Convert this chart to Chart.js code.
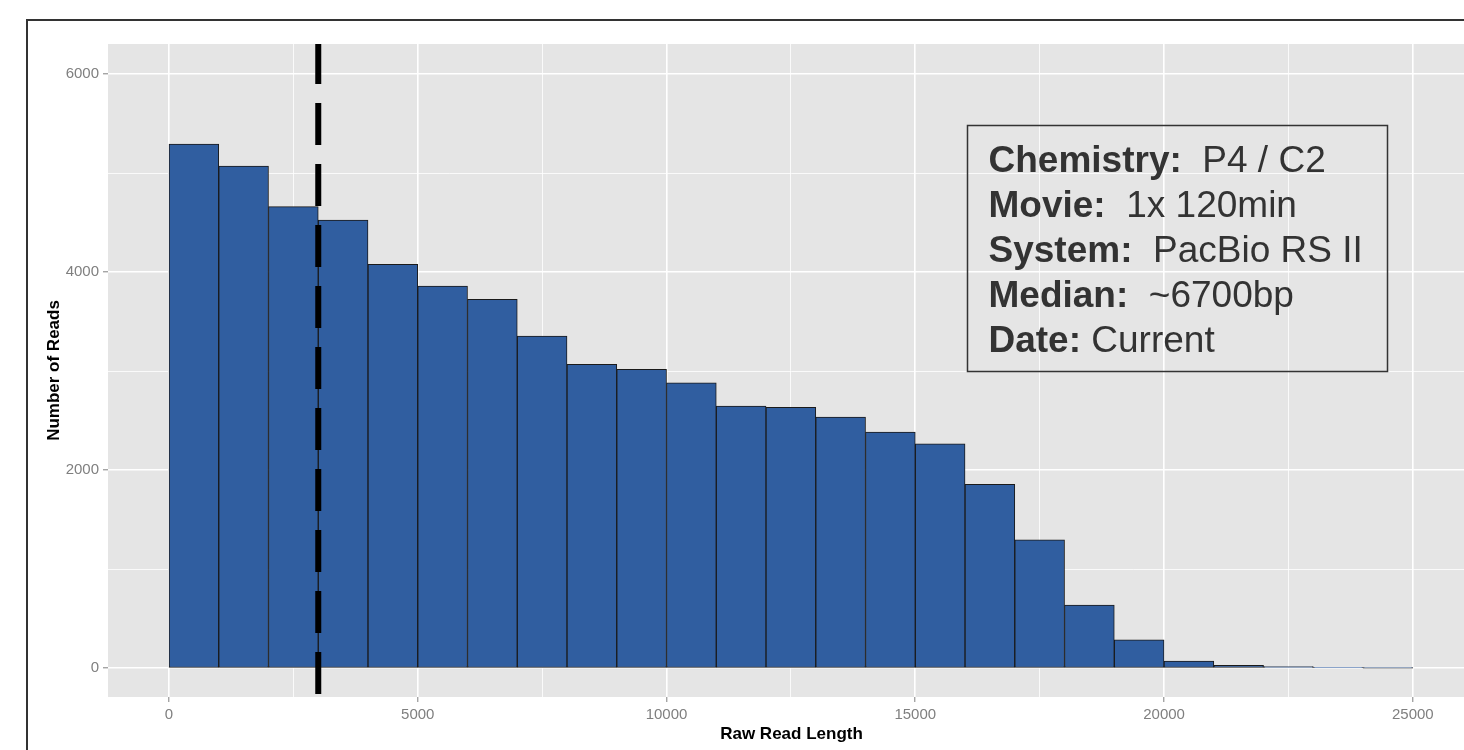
<!DOCTYPE html>
<html>
<head>
<meta charset="utf-8">
<title>Raw Read Length</title>
<script src="https://cdn.jsdelivr.net/npm/chart.js@4.4.1/dist/chart.umd.min.js"></script>
<style>
  html, body { margin: 0; padding: 0; background: #fff; overflow: hidden; }
  #wrap { position: relative; width: 1464px; height: 750px; overflow: hidden; }
  #frame { position: absolute; left: 26px; top: 19px; width: 1500px; height: 800px;
           border: 2px solid #333; box-sizing: border-box; }
  #chart { position: absolute; left: 0; top: 0; }
</style>
</head>
<body>
<div id="wrap">
  <div id="frame"></div>
  <canvas id="chart" width="1500" height="750"></canvas>
</div>
<script>
// histogram bins (start of each 1000 bp bin) and read counts
const binStarts = [0, 1000, 2000, 3000, 4000, 5000, 6000, 7000, 8000, 9000, 10000, 11000, 12000,
                   13000, 14000, 15000, 16000, 17000, 18000, 19000, 20000, 21000, 22000, 23000, 24000];
const binWidth = 1000;
const readCounts = [5293, 5071, 4661, 4526, 4079, 3860, 3725, 3355, 3069, 3018, 2883, 2647, 2634,
                    2537, 2386, 2265, 1858, 1298, 639, 286, 73, 30, 16, 6, 2];

// axis ticks
const xMajorTicks = [0, 5000, 10000, 15000, 20000, 25000];
const xMinorTicks = [2500, 7500, 12500, 17500, 22500];
const yMajorTicks = [0, 2000, 4000, 6000];
const yMinorTicks = [1000, 3000, 5000];

// dashed cutoff line
const cutoffLength = 3000;

// info box text
const infoLabels = ['Chemistry:', 'Movie:', 'System:', 'Median:', 'Date:'];
const infoValues = ['  P4 / C2', '  1x 120min', '  PacBio RS II', '  ~6700bp', ' Current'];
const infoAnchor = { x: 16040, y: 5485 }; // top-left corner of the box, in data units

const FONT = "'Liberation Sans', Arial, sans-serif";
const TICK_GREY = '#7f7f7f';

const ticksFrom = (major, minor) => scale => {
  scale.ticks = major.concat(minor).sort((a, b) => a - b).map(v => ({ value: v }));
};
const isMajor = list => ctx => ctx.tick && list.includes(ctx.tick.value);

// grey ggplot panel
const panelBackground = {
  id: 'panelBackground',
  beforeDraw(chart) {
    const { ctx, chartArea: a } = chart;
    ctx.save();
    ctx.fillStyle = '#e5e5e5';
    ctx.fillRect(a.left, a.top, a.right - a.left, a.bottom - a.top);
    ctx.restore();
  }
};

const cutoffLine = {
  id: 'cutoffLine',
  afterDatasetsDraw(chart) {
    const { ctx, chartArea: a, scales: { x } } = chart;
    const px = x.getPixelForValue(cutoffLength);
    ctx.save();
    ctx.beginPath();
    ctx.rect(a.left, a.top, a.right - a.left, a.bottom - a.top);
    ctx.clip();
    ctx.setLineDash([42, 19]);
    ctx.lineDashOffset = 2;
    ctx.lineWidth = 6;
    ctx.strokeStyle = '#000';
    ctx.beginPath();
    ctx.moveTo(px, a.top);
    ctx.lineTo(px, a.bottom);
    ctx.stroke();
    ctx.restore();
  }
};

const infoBox = {
  id: 'infoBox',
  afterDraw(chart) {
    const { ctx, scales: { x, y } } = chart;
    const left = Math.round(x.getPixelForValue(infoAnchor.x)) + 0.5;
    const top = Math.round(y.getPixelForValue(infoAnchor.y)) + 0.5;
    ctx.save();
    ctx.strokeStyle = '#333';
    ctx.lineWidth = 1.5;
    ctx.strokeRect(left, top, 420, 246);
    ctx.fillStyle = '#333';
    ctx.textBaseline = 'alphabetic';
    infoLabels.forEach((label, i) => {
      const base = top + 46 + i * 45;
      ctx.font = 'bold 37px ' + FONT;
      ctx.fillText(label, left + 21, base);
      const w = ctx.measureText(label).width;
      ctx.font = '37px ' + FONT;
      ctx.fillText(infoValues[i], left + 21 + w, base);
    });
    ctx.restore();
  }
};

new Chart(document.getElementById('chart'), {
  type: 'bar',
  data: {
    datasets: [{
      data: binStarts.map((s, i) => ({ x: s + binWidth / 2, y: readCounts[i] })),
      backgroundColor: '#305ea0',
      borderColor: '#1a1a1a',
      borderWidth: 1,
      borderSkipped: false,
      barPercentage: 1,
      categoryPercentage: 1
    }]
  },
  options: {
    responsive: false,
    devicePixelRatio: 1,
    animation: false,
    layout: { padding: { left: 44, top: 44, right: 25, bottom: 0 } },
    plugins: { legend: { display: false }, tooltip: { enabled: false } },
    scales: {
      x: {
        type: 'linear',
        offset: false,
        min: -1226,
        max: 26250,
        afterBuildTicks: ticksFrom(xMajorTicks, xMinorTicks),
        afterFit: s => { s.height = 53; },
        border: { display: false },
        grid: {
          offset: false,
          color: '#ffffff',
          lineWidth: ctx => isMajor(xMajorTicks)(ctx) ? 1.6 : 0.8,
          tickLength: 5,
          tickWidth: 1,
          tickColor: ctx => isMajor(xMajorTicks)(ctx) ? TICK_GREY : 'rgba(0,0,0,0)'
        },
        ticks: {
          autoSkip: false,
          maxRotation: 0,
          padding: 4,
          color: TICK_GREY,
          font: { family: FONT, size: 15 },
          callback: v => xMajorTicks.includes(v) ? String(v) : ''
        },
        title: {
          display: true,
          text: 'Raw Read Length',
          color: '#000',
          font: { family: FONT, size: 17, weight: 'bold' },
          padding: { top: 0, bottom: 5 }
        }
      },
      y: {
        min: -290,
        max: 6303,
        afterBuildTicks: ticksFrom(yMajorTicks, yMinorTicks),
        afterFit: s => { s.width = 64; },
        border: { display: false },
        grid: {
          color: '#ffffff',
          lineWidth: ctx => isMajor(yMajorTicks)(ctx) ? 1.6 : 0.8,
          tickLength: 5,
          tickWidth: 1,
          tickColor: ctx => isMajor(yMajorTicks)(ctx) ? TICK_GREY : 'rgba(0,0,0,0)'
        },
        ticks: {
          autoSkip: false,
          padding: 4,
          color: TICK_GREY,
          font: { family: FONT, size: 15 },
          callback: v => yMajorTicks.includes(v) ? String(v) : ''
        },
        title: {
          display: true,
          text: 'Number of Reads',
          color: '#000',
          font: { family: FONT, size: 17, weight: 'bold' },
          padding: { top: 0, bottom: 0 }
        }
      }
    }
  },
  plugins: [panelBackground, cutoffLine, infoBox]
});
</script>
</body>
</html>
